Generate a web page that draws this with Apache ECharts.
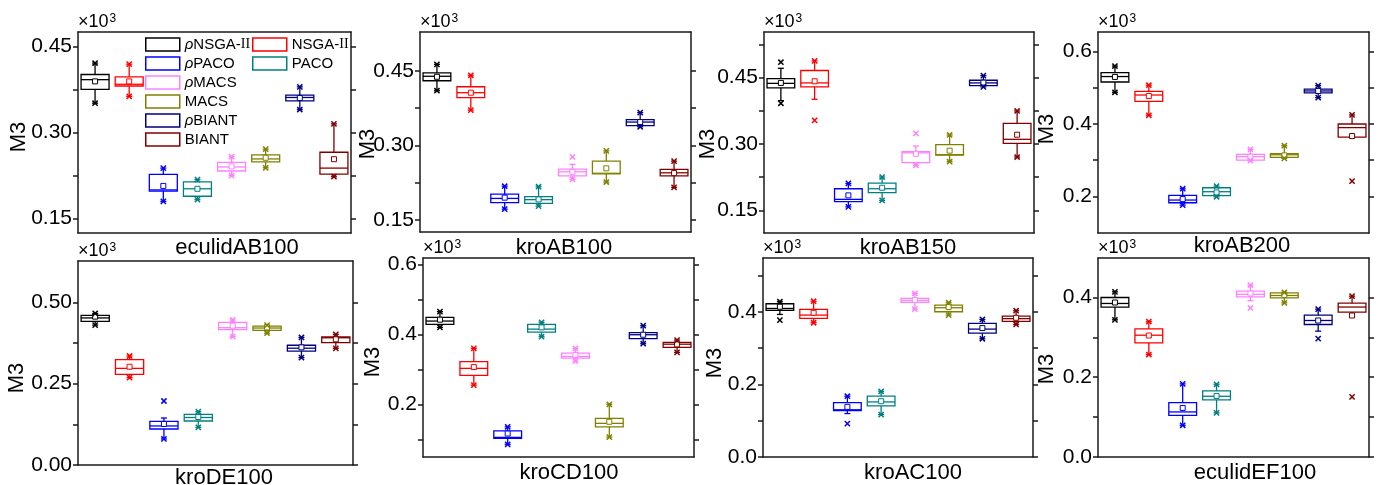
<!DOCTYPE html>
<html>
<head>
<meta charset="utf-8">
<script src="https://cdn.jsdelivr.net/npm/echarts@6/dist/echarts.min.js"></script>
<style>
  html, body { margin: 0; padding: 0; background: #fff; }
  #chart { width: 1379px; height: 485px; }
</style>
</head>
<body>
<div id="chart"></div>
<script>
const algorithms = ['pNSGA-II', 'NSGA-II', 'pPACO', 'PACO', 'pMACS', 'MACS', 'pBIANT', 'BIANT'];
const colors = ['#000000', '#ff0000', '#0000ff', '#008080', '#ff80ff', '#808000', '#000080', '#800000'];
const panelNames = ['eculidAB100', 'kroAB100', 'kroAB150', 'kroAB200', 'kroDE100', 'kroCD100', 'kroAC100', 'eculidEF100'];

// one row per algorithm: [min mark, lower whisker, Q1, median, Q3, upper whisker, max mark, mean]
const eculidAB100 = [
  [0.351, 0.351, 0.375, 0.392, 0.401, 0.421, 0.421, 0.389],
  [0.363, 0.363, 0.381, 0.384, 0.397, 0.419, 0.419, 0.389],
  [0.180, 0.180, 0.198, 0.200, 0.227, 0.238, 0.238, 0.207],
  [0.183, 0.183, 0.189, 0.202, 0.214, 0.218, 0.218, 0.202],
  [0.225, 0.225, 0.233, 0.240, 0.248, 0.258, 0.258, 0.241],
  [0.2385, 0.2385, 0.249, 0.254, 0.261, 0.271, 0.271, 0.256],
  [0.340, 0.340, 0.355, 0.361, 0.365, 0.3795, 0.3795, 0.360],
  [0.223, 0.223, 0.2275, 0.238, 0.2656, 0.315, 0.315, 0.2535]
];
const kroAB100 = [
  [0.410, 0.410, 0.430, 0.439, 0.446, 0.463, 0.463, 0.438],
  [0.371, 0.371, 0.396, 0.406, 0.418, 0.441, 0.441, 0.406],
  [0.172, 0.172, 0.185, 0.1935, 0.202, 0.218, 0.218, 0.195],
  [0.178, 0.178, 0.1835, 0.191, 0.197, 0.217, 0.217, 0.1915],
  [0.232, 0.232, 0.239, 0.247, 0.2525, 0.262, 0.277, 0.247],
  [0.2264, 0.2264, 0.243, 0.244, 0.2685, 0.289, 0.289, 0.254],
  [0.3375, 0.3375, 0.340, 0.347, 0.352, 0.366, 0.366, 0.347],
  [0.2156, 0.2156, 0.239, 0.245, 0.252, 0.2685, 0.2685, 0.2444]
];
const kroAB150 = [
  [0.392, 0.398, 0.4266, 0.437, 0.4477, 0.471, 0.4847, 0.438],
  [0.3535, 0.401, 0.429, 0.438, 0.466, 0.4877, 0.4877, 0.4417],
  [0.158, 0.158, 0.170, 0.175, 0.199, 0.211, 0.211, 0.184],
  [0.1726, 0.1726, 0.190, 0.199, 0.2118, 0.2254, 0.2254, 0.2012],
  [0.2517, 0.2517, 0.2578, 0.280, 0.2827, 0.2955, 0.324, 0.278],
  [0.260, 0.260, 0.275, 0.276, 0.2985, 0.3204, 0.3204, 0.285],
  [0.429, 0.429, 0.432, 0.438, 0.444, 0.4545, 0.4545, 0.4387],
  [0.2706, 0.2706, 0.3015, 0.3106, 0.3467, 0.3746, 0.3746, 0.321]
];
const kroAB200 = [
  [0.4876, 0.4876, 0.516, 0.531, 0.542, 0.560, 0.560, 0.530],
  [0.424, 0.424, 0.4627, 0.480, 0.490, 0.507, 0.507, 0.4774],
  [0.176, 0.176, 0.1825, 0.190, 0.2027, 0.2212, 0.2212, 0.1926],
  [0.199, 0.199, 0.202, 0.213, 0.224, 0.2286, 0.2286, 0.211],
  [0.2986, 0.2986, 0.3004, 0.3097, 0.316, 0.330, 0.330, 0.3097],
  [0.305, 0.305, 0.308, 0.315, 0.318, 0.340, 0.340, 0.3134],
  [0.4728, 0.4728, 0.4857, 0.4912, 0.496, 0.506, 0.506, 0.4912],
  [0.2424, 0.364, 0.364, 0.390, 0.400, 0.425, 0.425, 0.3668]
];
const kroDE100 = [
  [0.430, 0.430, 0.4416, 0.452, 0.460, 0.466, 0.466, 0.456],
  [0.2684, 0.2684, 0.2787, 0.297, 0.3238, 0.335, 0.335, 0.302],
  [0.080, 0.080, 0.1107, 0.120, 0.134, 0.1445, 0.1967, 0.126],
  [0.1158, 0.1158, 0.1352, 0.146, 0.1557, 0.164, 0.164, 0.1475],
  [0.3945, 0.3945, 0.416, 0.422, 0.4385, 0.4457, 0.4457, 0.428],
  [0.405, 0.405, 0.414, 0.421, 0.427, 0.430, 0.430, 0.423],
  [0.330, 0.330, 0.350, 0.359, 0.368, 0.392, 0.392, 0.3617],
  [0.3586, 0.3586, 0.376, 0.391, 0.3934, 0.4016, 0.4016, 0.3863]
];
const kroCD100 = [
  [0.420, 0.420, 0.4286, 0.438, 0.4486, 0.4648, 0.4648, 0.442],
  [0.2552, 0.2552, 0.283, 0.303, 0.322, 0.360, 0.360, 0.3067],
  [0.0857, 0.0857, 0.103, 0.106, 0.1248, 0.1362, 0.1362, 0.117],
  [0.3933, 0.3933, 0.4067, 0.415, 0.4286, 0.4343, 0.4343, 0.420],
  [0.3238, 0.3238, 0.3324, 0.337, 0.3467, 0.360, 0.360, 0.341],
  [0.1067, 0.1067, 0.136, 0.146, 0.160, 0.200, 0.200, 0.1505],
  [0.3733, 0.3733, 0.3876, 0.399, 0.4048, 0.4248, 0.4248, 0.399],
  [0.3486, 0.3486, 0.3629, 0.372, 0.3771, 0.3838, 0.3838, 0.3714]
];
const kroAC100 = [
  [0.377, 0.3926, 0.4037, 0.409, 0.422, 0.4276, 0.4276, 0.4138],
  [0.3697, 0.3697, 0.3816, 0.3908, 0.4064, 0.429, 0.429, 0.397],
  [0.092, 0.1196, 0.128, 0.130, 0.150, 0.1674, 0.1674, 0.138],
  [0.1168, 0.1168, 0.1407, 0.1517, 0.1674, 0.181, 0.181, 0.1536],
  [0.4074, 0.4074, 0.4257, 0.431, 0.4368, 0.4506, 0.4506, 0.4322],
  [0.3908, 0.3908, 0.400, 0.411, 0.4184, 0.4248, 0.4248, 0.4129],
  [0.3255, 0.3255, 0.3412, 0.3522, 0.3678, 0.3789, 0.3789, 0.355],
  [0.365, 0.365, 0.3733, 0.381, 0.388, 0.4028, 0.4028, 0.3834]
];
const eculidEF100 = [
  [0.344, 0.344, 0.3757, 0.385, 0.400, 0.4142, 0.4142, 0.3874],
  [0.257, 0.257, 0.2862, 0.3054, 0.3213, 0.3397, 0.3397, 0.3046],
  [0.0795, 0.0795, 0.1046, 0.113, 0.1364, 0.1833, 0.1833, 0.123],
  [0.1105, 0.1105, 0.1431, 0.1523, 0.1657, 0.1824, 0.1824, 0.1531],
  [0.374, 0.392, 0.4017, 0.408, 0.4159, 0.431, 0.431, 0.410],
  [0.3866, 0.3866, 0.3992, 0.405, 0.4117, 0.4126, 0.4126, 0.4059],
  [0.297, 0.3155, 0.3322, 0.3423, 0.3556, 0.3707, 0.3707, 0.3423],
  [0.1506, 0.3515, 0.3632, 0.376, 0.3858, 0.4033, 0.4033, 0.3548]
];
const panelData = [eculidAB100, kroAB100, kroAB150, kroAB200, kroDE100, kroCD100, kroAC100, eculidEF100];

// y axes: labelled ticks, extra (minor) ticks, range
const yLabels = [
  ['0.15', '0.30', '0.45'], ['0.15', '0.30', '0.45'], ['0.15', '0.30', '0.45'], ['0.2', '0.4', '0.6'],
  ['0.00', '0.25', '0.50'], ['0.2', '0.4', '0.6'], ['0.0', '0.2', '0.4'], ['0.0', '0.2', '0.4']
];
const yMinor = [
  [0.225, 0.375], [0.225, 0.375], [0.225, 0.375, 0.525], [0.3, 0.5],
  [0.125, 0.375], [0.1, 0.3, 0.5], [0.1, 0.3, 0.5], [0.1, 0.3]
];
const yRange = [
  [0.125, 0.475], [0.126, 0.528], [0.099, 0.553], [0.099, 0.654],
  [0, 0.627], [0.05, 0.618], [0, 0.548], [0, 0.499]
];

// layout: grid [left, top, width, height], title centre, M3 centre
const grids = [
  [78, 32, 273, 201], [420, 32, 271, 200], [764, 32, 270, 201], [1098, 32, 271, 201],
  [78, 261, 275, 204], [423, 258, 271, 199], [763, 258, 270, 199], [1098, 258, 271, 199]
];
const titlePos = [[237, 248], [564, 248], [908, 248], [1242, 246], [224, 478], [569, 473], [913, 473], [1255, 473]];
const m3Pos = [[19, 137], [368, 144], [708, 144], [1047, 129], [17, 378], [373, 362], [715, 363], [1047, 369]];

const FONT = 'Liberation Sans, Arial, sans-serif';
const frame = { color: '#1a1a1a', width: 1.5 };

function renderBox(params, api) {
  const k = api.value(0);
  const v = i => api.value(i);
  const y = val => api.coord([k, val])[1];
  const cx = api.coord([k, v(4)])[0];
  const bw = api.size([1, 0])[0] * 0.82;
  const c = api.visual('color');
  const line = (x1, y1, x2, y2, wd) => ({
    type: 'line', shape: { x1, y1, x2, y2 }, style: { stroke: c, lineWidth: wd || 1.3 }
  });
  const cross = yy => [line(cx - 2.6, yy - 2.6, cx + 2.6, yy + 2.6, 1.5), line(cx - 2.6, yy + 2.6, cx + 2.6, yy - 2.6, 1.5)];
  const yq1 = y(v(3)), yq3 = y(v(5));
  const ylo = y(v(2)), yhi = y(v(6));
  return {
    type: 'group',
    children: [
      line(cx, yhi, cx, yq3), line(cx - 3, yhi, cx + 3, yhi),
      line(cx, yq1, cx, ylo), line(cx - 3, ylo, cx + 3, ylo),
      { type: 'rect', shape: { x: cx - bw / 2, y: yq3, width: bw, height: yq1 - yq3 },
        style: { stroke: c, fill: 'none', lineWidth: 1.3 } },
      line(cx - bw / 2, y(v(4)), cx + bw / 2, y(v(4))),
      { type: 'rect', shape: { x: cx - 2.5, y: y(v(8)) - 2.5, width: 5, height: 5 },
        style: { stroke: c, fill: '#fff', lineWidth: 1 } }
    ].concat(cross(y(v(1))), cross(y(v(7))))
  };
}

const option = {
  animation: false,
  backgroundColor: '#fff',
  grid: [], xAxis: [], yAxis: [], series: [], graphic: [],
  legend: []
};

panelNames.forEach((name, p) => {
  const [l, t, w, h] = grids[p];
  option.grid.push({ left: l, top: t, width: w, height: h });
  ['bottom', 'top'].forEach(pos => option.xAxis.push({
    gridIndex: p, type: 'category', position: pos, data: algorithms, boundaryGap: true,
    axisLine: { onZero: false, lineStyle: frame },
    axisTick: { alignWithLabel: true, length: 4, lineStyle: frame },
    axisLabel: { show: false }, splitLine: { show: false }
  }));
  const labels = yLabels[p];
  const major = labels.map(Number);
  ['left', 'right'].forEach(pos => option.yAxis.push({
    gridIndex: p, type: 'value', position: pos, min: yRange[p][0], max: yRange[p][1],
    axisLine: { show: true, onZero: false, lineStyle: frame },
    axisTick: { show: true, length: 5, customValues: major.concat(yMinor[p]), lineStyle: frame },
    axisLabel: pos === 'left' ? {
      customValues: major, margin: 6, fontSize: 21, fontFamily: FONT, color: '#000',
      formatter: val => labels[major.findIndex(m => Math.abs(m - val) < 1e-9)] || ''
    } : { show: false },
    splitLine: { show: false }
  }));
  panelData[p].forEach((row, k) => option.series.push({
    type: 'custom', name: algorithms[k], xAxisIndex: 2 * p, yAxisIndex: 2 * p,
    color: colors[k], renderItem: renderBox, data: [[k].concat(row)], z: 3
  }));

  option.graphic.push({
    type: 'text', x: l, y: t - 1,
    style: {
      text: '×10{s|3}', fontSize: 18, fontFamily: FONT, fill: '#000',
      align: 'left', verticalAlign: 'bottom', textAlign: 'left', textVerticalAlign: 'bottom',
      rich: { s: { fontSize: 12, fontFamily: FONT, verticalAlign: 'top', padding: [0, 0, 6, 1] } }
    }
  });
  option.graphic.push({
    type: 'text', x: titlePos[p][0], y: titlePos[p][1],
    style: {
      text: name, fontSize: 22, fontFamily: FONT, fill: '#000',
      align: 'center', verticalAlign: 'middle', textAlign: 'center', textVerticalAlign: 'middle'
    }
  });
  option.graphic.push({
    type: 'text', x: m3Pos[p][0], y: m3Pos[p][1], rotation: Math.PI / 2,
    style: {
      text: 'M3', fontSize: 22, fontFamily: FONT, fill: '#000',
      align: 'center', verticalAlign: 'middle', textAlign: 'center', textVerticalAlign: 'middle'
    }
  });
});

const legendText = {
  fontSize: 15, fontFamily: FONT, color: '#000', lineHeight: 13,
  rich: {
    i: { fontStyle: 'italic', fontSize: 15, fontFamily: FONT, lineHeight: 13 },
    r: { fontSize: 14, fontFamily: 'Liberation Serif, serif', lineHeight: 13 }
  }
};
const legendItem = name => ({
  name, icon: 'rect',
  itemStyle: { color: '#fff', borderColor: colors[algorithms.indexOf(name)], borderWidth: 1.5 }
});
const legendFmt = name => name.replace(/^p/, '{i|ρ}').replace('II', '{r|II}');
[[['pNSGA-II', 'pPACO', 'pMACS', 'MACS', 'pBIANT', 'BIANT'], 145],
 [['NSGA-II', 'PACO'], 252]].forEach(([names, left]) => option.legend.push({
  orient: 'vertical', left, top: 37, padding: 0, itemWidth: 34, itemHeight: 13, itemGap: 4,
  selectedMode: false, data: names.map(legendItem), formatter: legendFmt, textStyle: legendText
}));

const chart = echarts.init(document.getElementById('chart'));
chart.setOption(option);
</script>
</body>
</html>
